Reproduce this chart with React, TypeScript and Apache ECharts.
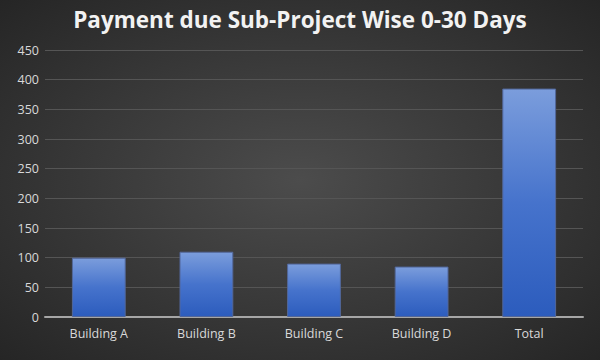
import React, { useEffect, useRef } from "react";
import * as echarts from "echarts";

const categories = ["Building A", "Building B", "Building C", "Building D", "Total"];
const values = [100, 110, 90, 85, 385];
const titleText = "Payment due Sub-Project Wise 0-30 Days";

export default function App() {
  const ref = useRef<HTMLDivElement>(null);
  useEffect(() => {
    if (!ref.current) return;
    const chart = echarts.init(ref.current, null, { renderer: "svg" });
    chart.setOption({
      animation: false,
      backgroundColor: new echarts.graphic.RadialGradient(0.5, 0.5, 0.75, [
        { offset: 0, color: "#4c4c4c" },
        { offset: 1, color: "#232323" },
      ]),
      title: {
        text: titleText,
        left: "center",
        top: 3,
        textStyle: {
          color: "#f2f2f2",
          fontFamily: "Open Sans",
          fontWeight: "bold",
          fontSize: 22.5,
        },
      },
      grid: { left: 45, right: 17, top: 50, bottom: 43, containLabel: false },
      xAxis: {
        type: "category",
        data: categories,
        axisLine: { lineStyle: { color: "#a6a6a6", width: 2 } },
        axisTick: { show: false },
        axisLabel: { color: "#d9d9d9", fontFamily: "Open Sans", fontSize: 12.5, margin: 10 },
      },
      yAxis: {
        type: "value",
        min: 0,
        max: 450,
        interval: 50,
        axisLine: { show: false },
        axisTick: { show: false },
        axisLabel: { color: "#d9d9d9", fontFamily: "Open Sans", fontSize: 12.5, margin: 6 },
        splitLine: { lineStyle: { color: "#555555", width: 1 } },
      },
      series: [
        {
          type: "bar",
          data: values,
          barWidth: "50%",
          itemStyle: {
            color: new echarts.graphic.LinearGradient(0, 0, 0, 1, [
              { offset: 0, color: "#7b9ddc" },
              { offset: 0.5, color: "#4673cc" },
              { offset: 1, color: "#2c5cbd" },
            ]),
            borderColor: "#52679a",
            borderWidth: 1,
          },
        },
      ],
    });
    return () => chart.dispose();
  }, []);
  return <div ref={ref} style={{ width: 600, height: 360, position: "absolute", left: 0, top: 0 }} />;
}
